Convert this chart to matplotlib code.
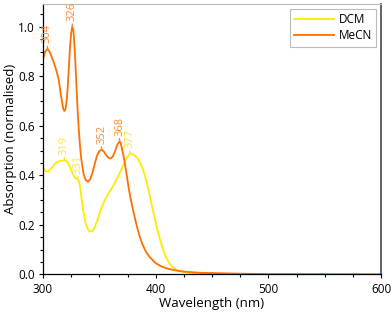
import matplotlib
matplotlib.use("Agg")
import matplotlib.pyplot as plt
from matplotlib.ticker import MultipleLocator

plt.rcParams['font.family'] = ['Open Sans', 'DejaVu Sans']

# --- data ---
dcm_wl = [300, 302, 304, 306, 308, 310, 312, 314, 316, 318, 319, 320, 322, 324, 326, 328, 330,
          331, 332, 333, 334, 335, 336, 338, 340, 342, 344, 346, 348, 350, 352, 354, 356, 358,
          360, 362, 364, 366, 368, 370, 372, 374, 376, 377, 378, 380, 382, 384, 386, 388, 390,
          392, 394, 396, 398, 400, 402, 404, 406, 408, 410, 412, 414, 416, 418, 420, 425, 430,
          440, 450, 460, 480, 500, 600]
dcm_abs = [0.430, 0.418, 0.415, 0.420, 0.432, 0.444, 0.452, 0.456, 0.458, 0.460, 0.460, 0.459,
           0.452, 0.432, 0.410, 0.392, 0.385, 0.384, 0.375, 0.350, 0.315, 0.280, 0.248, 0.205,
           0.180, 0.172, 0.176, 0.192, 0.215, 0.243, 0.270, 0.292, 0.310, 0.326, 0.340, 0.355,
           0.372, 0.390, 0.408, 0.428, 0.450, 0.468, 0.482, 0.487, 0.487, 0.484, 0.478, 0.468,
           0.452, 0.432, 0.405, 0.372, 0.335, 0.292, 0.250, 0.210, 0.172, 0.138, 0.108, 0.082,
           0.062, 0.046, 0.034, 0.026, 0.020, 0.015, 0.009, 0.006, 0.003, 0.002, 0.001, 0.0005,
           0.0, 0.0]

mecn_wl = [300, 302, 304, 306, 308, 310, 312, 314, 316, 318, 319, 320, 321, 322, 323, 324, 325,
           326, 327, 328, 329, 330, 331, 332, 333, 334, 336, 338, 340, 342, 344, 346, 348, 350,
           352, 354, 356, 358, 360, 362, 364, 366, 368, 369, 370, 372, 374, 376, 378, 380, 382,
           384, 386, 388, 390, 392, 395, 398, 400, 405, 410, 415, 420, 425, 430, 440, 450, 460,
           480, 500, 550, 600]
mecn_abs = [0.870, 0.900, 0.910, 0.898, 0.875, 0.850, 0.822, 0.785, 0.720, 0.668, 0.660, 0.668,
            0.700, 0.760, 0.840, 0.920, 0.975, 1.000, 0.985, 0.920, 0.830, 0.730, 0.640, 0.570,
            0.510, 0.465, 0.405, 0.380, 0.374, 0.385, 0.412, 0.448, 0.480, 0.498, 0.504, 0.496,
            0.482, 0.471, 0.468, 0.476, 0.498, 0.524, 0.537, 0.530, 0.510, 0.466, 0.410, 0.350,
            0.300, 0.258, 0.218, 0.182, 0.150, 0.124, 0.104, 0.086, 0.068, 0.054, 0.045, 0.032,
            0.024, 0.018, 0.014, 0.011, 0.009, 0.006, 0.005, 0.004, 0.002, 0.001, 0.0005, 0.0]

dcm_peaks = [319, 331, 377]
dcm_peak_abs = [0.460, 0.384, 0.487]
mecn_peaks = [304, 326, 352, 368]
mecn_peak_abs = [0.910, 1.000, 0.504, 0.537]

labels = ["DCM", "MeCN"]
yellow = "#FFEA00"
orange = "#FF7000"
yellow_txt = "#FFE43A"
orange_txt = "#FF8533"

fig = plt.figure(figsize=(3.92, 3.13), dpi=100)
ax = fig.add_axes([43 / 392, 1 - 274.3 / 313, (381 - 43) / 392, (274.3 - 4) / 313])

ax.plot(dcm_wl, dcm_abs, color=yellow, lw=1.3, label=labels[0])
ax.plot(mecn_wl, mecn_abs, color=orange, lw=1.3, label=labels[1])

def label_peaks(wls, vals, color):
    for w, a in zip(wls, vals):
        ax.annotate(str(w), xy=(w, a), xytext=(0, 4), textcoords='offset points',
                    rotation=90, ha='center', va='bottom', fontsize=8, color=color,
                    arrowprops=dict(arrowstyle='-', color=color, lw=1.0,
                                    shrinkA=0, shrinkB=0))

label_peaks(dcm_peaks, dcm_peak_abs, yellow_txt)
label_peaks(mecn_peaks, mecn_peak_abs, orange_txt)

ax.set_xlim(300, 600)
ax.set_ylim(0, 1.092)
ax.xaxis.set_major_locator(MultipleLocator(100))
ax.xaxis.set_minor_locator(MultipleLocator(25))
ax.yaxis.set_major_locator(MultipleLocator(0.2))
ax.yaxis.set_minor_locator(MultipleLocator(0.05))
ax.yaxis.set_major_formatter(plt.FormatStrFormatter('%.1f'))
ax.tick_params(which='major', direction='out', length=3, width=0.8, labelsize=8.5, pad=3,
               colors='black', right=False, top=False)
ax.tick_params(which='minor', direction='out', length=2.5, width=0.8, right=False, top=False)

ax.set_xlabel("Wavelength (nm)", fontsize=9.5, labelpad=1)
ax.set_ylabel("Absorption (normalised)", fontsize=9.5, labelpad=1)

for s in ['left', 'bottom']:
    ax.spines[s].set_color('black')
    ax.spines[s].set_linewidth(0.9)
ax.spines['right'].set_color('#555555')
ax.spines['right'].set_linewidth(1.3)
ax.spines['top'].set_color('#BBBBBB')
ax.spines['top'].set_linewidth(0.8)
ax.spines['top'].set_linestyle((0, (1, 1)))

leg = ax.legend(loc='upper right', fontsize=8.5, frameon=True, fancybox=False,
                handlelength=3.4, handletextpad=0.4, borderpad=0.35, labelspacing=0.3,
                borderaxespad=0.4)
leg.get_frame().set_edgecolor('#AAAAAA')
leg.get_frame().set_linewidth(0.8)

fig.savefig("out.png", dpi=100)
